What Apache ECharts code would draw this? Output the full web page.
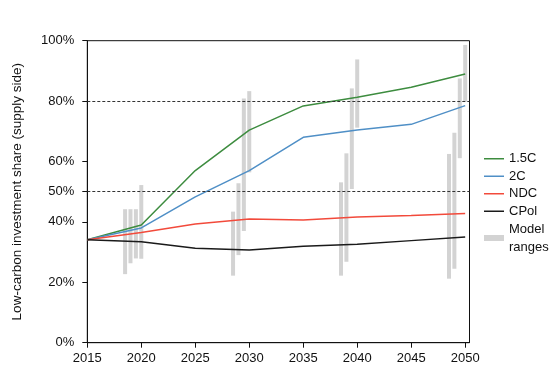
<!DOCTYPE html>
<html>
<head>
<meta charset="utf-8">
<script src="https://cdn.jsdelivr.net/npm/echarts@6/dist/echarts.min.js"></script>
<style>html,body{margin:0;padding:0;background:#fff;}#c{width:555px;height:372px;}</style>
</head>
<body>
<div id="c"></div>
<script>
const years = [2015, 2020, 2025, 2030, 2035, 2040, 2045, 2050];
const xTicks = [2015, 2020, 2025, 2030, 2035, 2040, 2045, 2050];
const yTicks = [0, 20, 40, 50, 60, 80, 100];
const refLines = [80, 50];

const s15C = [34.1, 39.0, 57.0, 70.4, 78.4, 81.3, 84.6, 89.0];
const s2C  = [34.1, 38.0, 48.3, 57.0, 68.0, 70.4, 72.3, 78.5];
const sNDC = [34.1, 36.5, 39.3, 41.0, 40.6, 41.6, 42.1, 42.8];
const sCPol= [34.1, 33.4, 31.3, 30.7, 31.9, 32.6, 33.8, 35.0];

const rangeYears = [2018.5, 2019.0, 2019.5, 2020.0, 2028.5, 2029.0, 2029.5, 2030.0, 2038.5, 2039.0, 2039.5, 2040.0, 2048.5, 2049.0, 2049.5, 2050.0];
const rangeLow   = [22.7, 26.3, 27.9, 27.8, 22.2, 29.0, 37.0, 56.4, 22.2, 26.8, 50.9, 71.2, 21.2, 24.5, 61.1, 79.8];
const rangeHigh  = [44.2, 44.2, 44.2, 52.2, 43.4, 52.8, 80.9, 83.3, 53.1, 62.7, 84.2, 93.8, 62.5, 69.5, 87.5, 98.6];

const FONT = '"Liberation Sans", Arial, sans-serif';
const pair = arr => years.map((y, i) => [y, arr[i]]);
const rangeData = rangeYears.map((y, i) => [y, rangeLow[i], rangeHigh[i]]);

const chart = echarts.init(document.getElementById('c'), null, {renderer: 'canvas'});
const lineSeries = (name, data, color) => ({
  name, type: 'line', data: pair(data), symbol: 'none', z: 3,
  lineStyle: {color, width: 1.5}, itemStyle: {color}
});

chart.setOption({
  animation: false,
  textStyle: {fontFamily: FONT},
  grid: {left: 87.3, right: 85.5, top: 40.7, bottom: 29.3, show: true, borderColor: '#111', borderWidth: 1},
  legend: [{
    orient: 'vertical', left: 479, top: 145, itemWidth: 20, itemHeight: 1.5, itemGap: 0,
    data: ['1.5C', '2C', 'NDC', 'CPol'].map(n => ({name: n, icon: 'rect'})),
    textStyle: {fontFamily: FONT, fontSize: 13, color: '#111', lineHeight: 17.5}
  }, {
    orient: 'vertical', left: 479, top: 215, itemWidth: 20, itemHeight: 6,
    data: [{name: 'Model ranges', icon: 'rect'}],
    formatter: () => 'Model\nranges',
    textStyle: {fontFamily: FONT, fontSize: 13, color: '#111', lineHeight: 18}
  }],
  xAxis: {
    type: 'value', min: 2015, max: 2050.4,
    axisLine: {show: true, lineStyle: {color: '#111', width: 1}},
    axisTick: {show: true, length: 5, inside: false, customValues: xTicks, lineStyle: {color: '#111'}},
    axisLabel: {customValues: xTicks, formatter: v => String(v), fontSize: 13, color: '#111', margin: 9, fontFamily: FONT},
    splitLine: {show: false}
  },
  yAxis: {
    type: 'value', min: 0, max: 100,
    name: 'Low-carbon investment share (supply side)', nameLocation: 'middle', nameGap: 63,
    nameTextStyle: {fontSize: 13.5, color: '#111', fontFamily: FONT},
    axisLine: {show: true, lineStyle: {color: '#111', width: 1}},
    axisTick: {show: true, length: 5, customValues: yTicks, lineStyle: {color: '#111'}},
    axisLabel: {customValues: yTicks, formatter: '{value}%', fontSize: 13, color: '#111', margin: 13, fontFamily: FONT},
    splitLine: {show: false}
  },
  series: [
    {
      name: 'Model ranges', type: 'custom', data: rangeData, z: 1,
      itemStyle: {color: '#d3d3d3'},
      encode: {x: 0, y: [1, 2]},
      renderItem: (params, api) => {
        const lo = api.coord([api.value(0), api.value(1)]);
        const hi = api.coord([api.value(0), api.value(2)]);
        const w = 4;
        return {type: 'rect', shape: {x: lo[0] - w / 2, y: hi[1], width: w, height: lo[1] - hi[1]},
                style: {fill: '#d3d3d3'}};
      }
    },
    Object.assign(lineSeries('1.5C', s15C, '#3d8c3f'), {
      markLine: {
        silent: true, symbol: 'none', label: {show: false},
        lineStyle: {color: '#333', width: 1, type: [3, 2]},
        data: refLines.map(v => ({yAxis: v}))
      }
    }),
    lineSeries('2C', s2C, '#4f8fc6'),
    lineSeries('NDC', sNDC, '#f24a3b'),
    lineSeries('CPol', sCPol, '#1a1a1a')
  ]
});
</script>
</body>
</html>
